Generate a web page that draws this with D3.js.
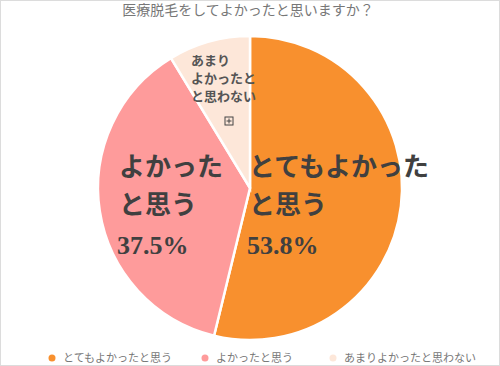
<!DOCTYPE html>
<html>
<head>
<meta charset="utf-8">
<script src="https://cdn.jsdelivr.net/npm/d3@7"></script>
<style>
  html, body { margin: 0; padding: 0; background: #fff; }
  svg { display: block; }
  text { font-family: "Noto Sans CJK JP", "Noto Sans", sans-serif; }
</style>
</head>
<body>
<div id="chart"></div>
<script>
const categories = ["とてもよかったと思う", "よかったと思う", "あまりよかったと思わない"];
const values = [53.8, 37.5, 8.7];
const colors = ["#F8902E", "#FE9B9B", "#FDE7D9"];
const title = "医療脱毛をしてよかったと思いますか？";

const width = 500, height = 366;
const cx = 250, cy = 188, radius = 152;

const svg = d3.select("#chart").append("svg")
  .attr("width", width)
  .attr("height", height);

// frame
svg.append("rect")
  .attr("x", 0.5).attr("y", 0.5)
  .attr("width", width - 1).attr("height", height - 1)
  .attr("fill", "#fff")
  .attr("stroke", "#dcdcdc");

svg.append("text")
  .attr("x", 248).attr("y", 15)
  .attr("text-anchor", "middle")
  .attr("font-size", 14)
  .attr("fill", "#777")
  .text(title);

const data = categories.map((c, i) => ({ name: c, value: values[i], color: colors[i] }));

const pie = d3.pie().value(d => d.value).sort(null);
const arc = d3.arc().innerRadius(0).outerRadius(radius);
const arcs = pie(data);

const g = svg.append("g").attr("transform", `translate(${cx},${cy})`);

g.selectAll("path")
  .data(arcs)
  .join("path")
  .attr("d", arc)
  .attr("fill", d => d.data.color)
  .attr("stroke", "#fff")
  .attr("stroke-width", 2.5);

// big labels (positions relative to the pie centre)
const labelLines = [
  { lines: ["とてもよかった", "と思う"], pct: "53.8%", x: -1 },
  { lines: ["よかった", "と思う"], pct: "37.5%", x: -131 }
];

labelLines.forEach(l => {
  l.lines.forEach((t, i) => {
    g.append("text")
      .attr("x", l.x).attr("y", -12 + i * 38)
      .attr("font-size", 26)
      .attr("font-weight", 700)
      .attr("fill", "#404040")
      .text(t);
  });
  g.append("text")
    .attr("x", l.x - 2).attr("y", 66)
    .attr("font-size", 26)
    .attr("font-weight", 700)
    .style("font-family", "'Liberation Serif', 'DejaVu Serif', serif")
    .attr("fill", "#404040")
    .text(l.pct);
});

// small label for the thin slice
["あまり", "よかったと", "と思わない"].forEach((t, i) => {
  g.append("text")
    .attr("x", -59).attr("y", -123 + i * 18)
    .attr("font-size", 13)
    .attr("font-weight", 700)
    .attr("fill", "#555")
    .text(t);
});

// little expand icon
const icon = g.append("g").attr("transform", "translate(-21,-67)");
icon.append("rect").attr("x", -4).attr("y", -4).attr("width", 8).attr("height", 8)
  .attr("fill", "none").attr("stroke", "#444").attr("stroke-width", 1);
icon.append("path").attr("d", "M-2.5,0H2.5M0,-2.5V2.5")
  .attr("stroke", "#444").attr("stroke-width", 1);

// legend
const legendX = [52, 205, 333];
const legend = svg.append("g").selectAll("g")
  .data(data)
  .join("g")
  .attr("transform", (d, i) => `translate(${legendX[i]},358)`);

legend.append("circle")
  .attr("r", 3.5)
  .attr("fill", d => d.color);

legend.append("text")
  .attr("x", 11).attr("y", 4)
  .attr("font-size", 11)
  .attr("fill", "#777")
  .text(d => d.name);
</script>
</body>
</html>
